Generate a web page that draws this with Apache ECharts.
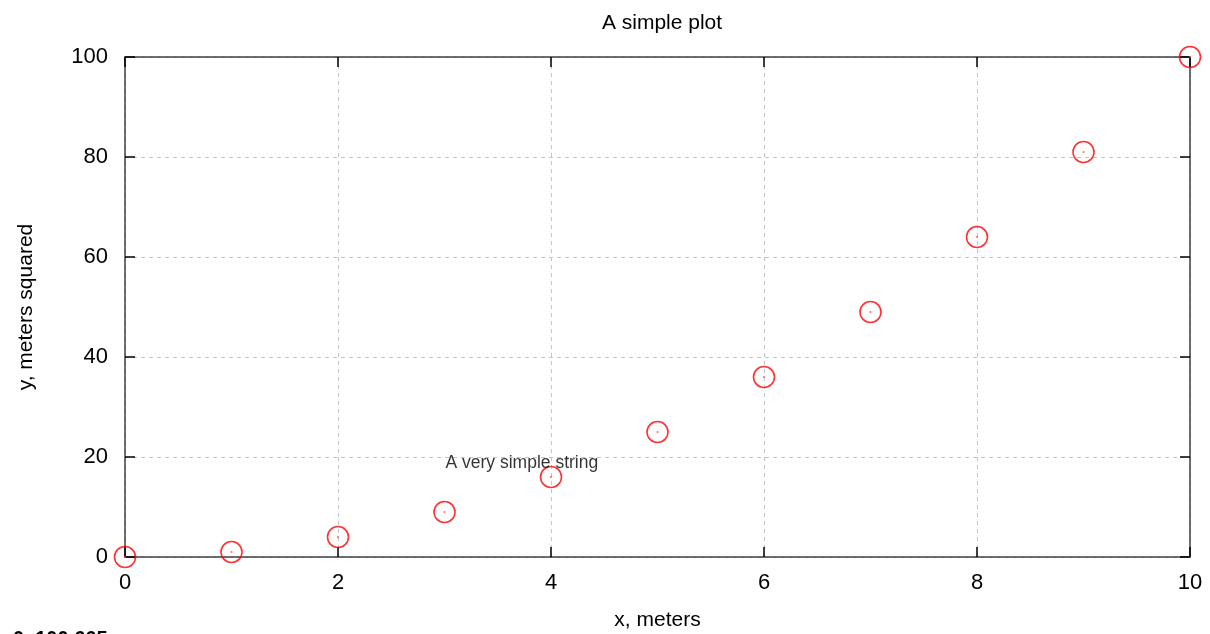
<!DOCTYPE html>
<html>
<head>
<meta charset="utf-8">
<script src="https://cdn.jsdelivr.net/npm/echarts@6/dist/echarts.min.js"></script>
<style>
  html, body { margin: 0; padding: 0; background: #fff; }
  #chart { width: 1210px; height: 634px; }
</style>
</head>
<body>
<div id="chart"></div>
<script>
const xValues = [0, 1, 2, 3, 4, 5, 6, 7, 8, 9, 10];
const yValues = [0, 1, 4, 9, 16, 25, 36, 49, 64, 81, 100];
const labelPoint = [3, 18.8];
const labelText = 'A very simple string';
const coordText = '0, 100.665';

const points = xValues.map((x, i) => [x, yValues[i]]);
const font = 'Liberation Sans, Arial, sans-serif';
const lineStyle = { color: '#404040', width: 1.5 };
const tickStyle = { show: true, inside: true, length: 10, lineStyle: { color: '#000', width: 1.5 } };
const gridLine = { show: true, lineStyle: { color: '#c4c4c4', type: [4, 4], width: 1 } };

// mirrored axes carry the ticks on the top and right edges
const mirrorAxis = (pos, max) => ({
    type: 'value',
    position: pos,
    min: 0,
    max: max,
    interval: max / 5,
    axisLine: { show: true, onZero: false, lineStyle: lineStyle },
    axisTick: tickStyle,
    axisLabel: { show: false },
    splitLine: { show: false }
});

const init = () => {
    const myChart = echarts.init(document.getElementById('chart'));
    let option = {
        animation: false,
        title: {
            text: 'A simple plot',
            left: 657,
            top: 8,
            textAlign: 'center',
            textStyle: { fontFamily: font, fontSize: 21, fontWeight: 'normal', color: '#000' }
        },
        grid: { left: 125, right: 20, top: 57, bottom: 77, containLabel: false, outerBoundsMode: 'none' },
        xAxis: [
            {
                type: 'value',
                position: 'bottom',
                min: 0,
                max: 10,
                interval: 2,
                name: 'x, meters',
                nameLocation: 'middle',
                nameGap: 53,
                nameTextStyle: { fontFamily: font, fontSize: 21, color: '#000' },
                axisLine: { show: true, onZero: false, lineStyle: lineStyle },
                axisTick: tickStyle,
                axisLabel: { fontFamily: font, fontSize: 22, color: '#000', margin: 15 },
                splitLine: gridLine
            },
            mirrorAxis('top', 10)
        ],
        yAxis: [
            {
                type: 'value',
                position: 'left',
                min: 0,
                max: 100,
                interval: 20,
                name: 'y, meters squared',
                nameLocation: 'middle',
                nameGap: 88,
                nameTextStyle: { fontFamily: font, fontSize: 21, color: '#000' },
                axisLine: { show: true, onZero: false, lineStyle: lineStyle },
                axisTick: tickStyle,
                axisLabel: { fontFamily: font, fontSize: 22, color: '#000', margin: 17 },
                splitLine: gridLine
            },
            mirrorAxis('right', 100)
        ],
        series: [
            {
                type: 'scatter',
                data: points,
                symbol: 'circle',
                symbolSize: 21,
                itemStyle: { color: 'rgba(255,255,255,0)', borderColor: '#ff0000', borderWidth: 1.6 },
                z: 3
            },
            {
                type: 'scatter',
                data: points,
                symbol: 'circle',
                symbolSize: 2,
                itemStyle: { color: '#ff4040' },
                z: 4
            },
            {
                type: 'scatter',
                data: [labelPoint],
                symbolSize: 0,
                silent: true,
                label: {
                    show: true,
                    position: 'right',
                    distance: 1,
                    formatter: labelText,
                    fontFamily: font,
                    fontSize: 17.5,
                    color: '#000'
                },
                z: 5
            }
        ],
        graphic: [
            {
                type: 'text',
                left: 13,
                top: 629,
                style: { text: coordText, font: 'bold 20px ' + font, fill: '#000' }
            }
        ]
    };
    myChart.setOption(option);
    window.addEventListener('resize', () => {
        myChart.resize();
    });
};
init();
</script>
</body>
</html>
